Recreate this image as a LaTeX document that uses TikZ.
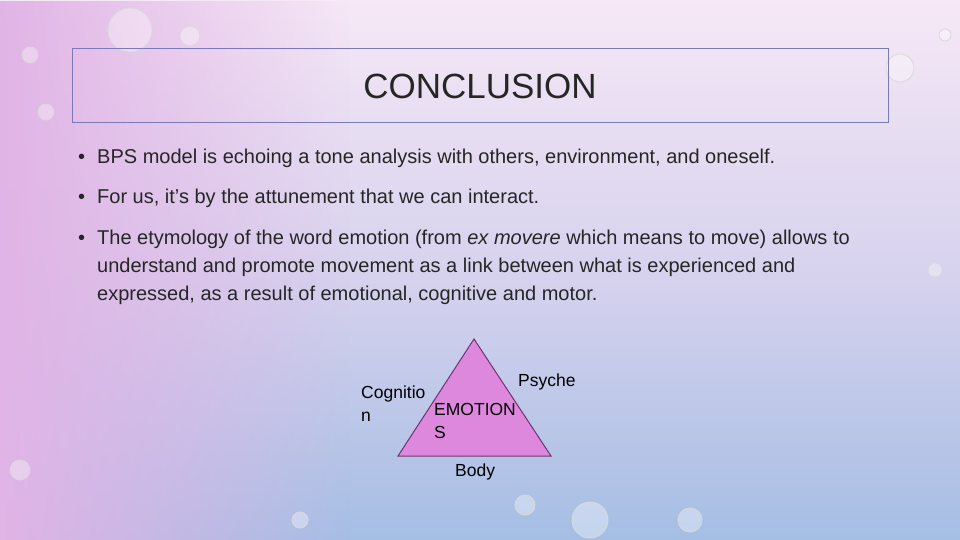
\documentclass[tikz,border=0pt]{standalone}
\usepackage{fontspec}
\usetikzlibrary{fadings}
\setmainfont{Liberation Sans}
\definecolor{orch}{RGB}{221,136,221}
\definecolor{bgtop}{RGB}{246,232,246}
\definecolor{bgmid}{RGB}{215,210,238}
\definecolor{bgbot}{RGB}{165,190,228}
\definecolor{pinkside}{RGB}{225,180,230}
\begin{document}
\begin{tikzpicture}[x=1pt,y=-1pt,
  txt/.style={anchor=base west,inner sep=0pt,font=\fontsize{20}{24}\selectfont,text=black!85},
  lbl/.style={inner sep=0pt,font=\fontsize{17.5}{23}\selectfont,align=left},
  bub/.style={draw=white!70!gray,fill=white,fill opacity=0.35,line width=0.8pt}]
\shade[top color=bgtop, bottom color=bgbot, middle color=bgmid] (0,0) rectangle (960,540);
\fill[pinkside,path fading=east] (0,0) rectangle (350,540);
\useasboundingbox (0,0) rectangle (960,540);
\foreach \x/\y/\r in {130/30/22,190/36/10,30/55/8,46/112/8,900/68/14,945/35/6,590/520/18,690/520/12,525/505/10,20/470/10,935/270/7,300/520/8}
  \draw[bub] (\x,\y) circle (\r);
\node[draw=blue!30!gray!80,line width=0.8pt,minimum width=816pt,minimum height=74pt,inner sep=0pt] (title) at (480,85) {};
\node[font=\fontsize{35}{40}\selectfont,text=black!85] (tt) at (480,86) {CONCLUSION};
\node[txt] (b1) at (78,164) {•\hspace{12pt}BPS model is echoing a tone analysis with others, environment, and oneself.};
\node[txt] (b2) at (78,204) {•\hspace{12pt}For us, it’s by the attunement that we can interact.};
\node[txt] (b3) at (78,244) {•\hspace{12pt}The etymology of the word emotion (from \textit{ex movere} which means to move) allows to};
\node[txt] (b4) at (97,272) {understand and promote movement as a link between what is experienced and};
\node[txt] (b5) at (97,300) {expressed, as a result of emotional, cognitive and motor.};
\coordinate (A) at (474,339);
\coordinate (L) at (398,456);
\coordinate (R) at (551,456);
\draw[fill=orch,draw=violet!60!black!80,line width=1pt] (A) -- (L) -- (R) -- cycle;
\node[lbl,anchor=north west] (cog) at (361,386) {Cognitio\\n};
\node[lbl,anchor=north west] (emo) at (434,403) {EMOTION\\S};
\node[lbl,anchor=north west] (psy) at (518,374) {Psyche};
\node[lbl,anchor=north west] (body) at (455,464) {Body};
\end{tikzpicture}
\end{document}
